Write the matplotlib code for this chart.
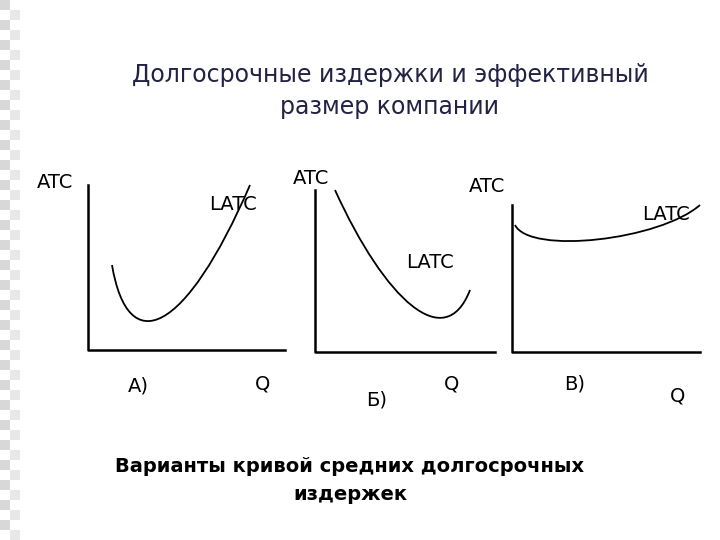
import matplotlib
matplotlib.use("Agg")
import matplotlib.pyplot as plt
from matplotlib.path import Path
from matplotlib.patches import PathPatch, Rectangle

plt.rcParams['font.family'] = ['DejaVu Sans']

# slide content in pixel coordinates (y downward)
title_lines = ["Долгосрочные издержки и эффективный", "размер компании"]
footer_lines = ["Варианты кривой средних долгосрочных", "издержек"]

# axes: (x0, y_top, x_end, y_base)
axes_frames = [(88, 185, 285, 350), (315, 190, 495, 352), (512, 205, 700, 352)]

# curves as cubic bezier control points (start, ctrl1, ctrl2, end)
curve_a = [(112, 265), (128, 360), (185, 335), (250, 185)]
curve_b = [(335, 190), (385, 300), (445, 355), (470, 290)]
curve_c = [(515, 225), (530, 255), (660, 240), (700, 205)]
curves = [curve_a, curve_b, curve_c]

labels = [
    ("ATC", 55, 182), ("LATC", 233, 205), ("А)", 138, 386), ("Q", 263, 384),
    ("ATC", 311, 178), ("LATC", 430, 262), ("Б)", 377, 400), ("Q", 452, 384),
    ("ATC", 487, 187), ("LATC", 666, 214), ("В)", 575, 384), ("Q", 678, 396),
]

fig = plt.figure(figsize=(7.2, 5.4), dpi=100)
ax = fig.add_axes([0, 0, 1, 1])
ax.set_xlim(0, 720)
ax.set_ylim(540, 0)
ax.axis("off")

# decorative left strip
for i in range(0, 540, 20):
    ax.add_patch(Rectangle((0, i), 10, 10, color="#d8d8d8", lw=0))
    ax.add_patch(Rectangle((10, i + 10), 10, 10, color="#e8e8e8", lw=0))

ax.text(390, 75, title_lines[0], ha="center", va="center", fontsize=17, color="#222244")
ax.text(390, 107, title_lines[1], ha="center", va="center", fontsize=17, color="#222244")

for x0, yt, xe, yb in axes_frames:
    ax.plot([x0, x0, xe], [yt, yb, yb], color="black", lw=1.8)

for pts in curves:
    codes = [Path.MOVETO] + [Path.CURVE4] * (len(pts) - 1)
    ax.add_patch(PathPatch(Path(pts, codes), fill=False, lw=1.3, color="black"))

for txt, x, y in labels:
    ax.text(x, y, txt, ha="center", va="center", fontsize=14)

ax.text(350, 467, footer_lines[0], ha="center", va="center", fontsize=14, fontweight="bold")
ax.text(350, 494, footer_lines[1], ha="center", va="center", fontsize=14, fontweight="bold")

fig.savefig("out.png", dpi=100)
